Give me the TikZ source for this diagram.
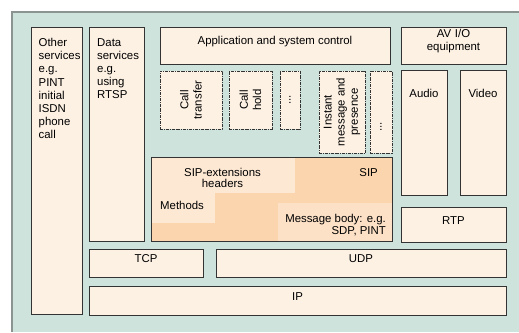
\documentclass[tikz,border=0pt]{standalone}
\usepackage{fontspec}
\setmainfont{Liberation Sans}
\usetikzlibrary{fit}

\definecolor{tealbg}{HTML}{CFE3DD}
\definecolor{frameline}{HTML}{8C9491}
\definecolor{boxline}{HTML}{333333}
\definecolor{cream}{HTML}{FDF1E4}
\definecolor{peach}{HTML}{FBD5AD}
\definecolor{peachlight}{HTML}{FDE8D4}
\definecolor{peachmid}{HTML}{FDE1C6}

\begin{document}
\begin{tikzpicture}[%
    x=1pt, y=-1pt,              % work in points, y going down
    font=\fontsize{11.4}{13.2}\selectfont,
    ]
% -------------------------------------------------
% Box styles
\tikzset{
  base/.style={inner sep=0pt, outer sep=0pt, draw=boxline, line width=1pt},
  box/.style={base, fill=cream},
  dbox/.style={base, fill=cream, line width=0.75pt,
               dash pattern=on 3pt off 1pt on 0.8pt off 1pt},
  txt/.style={inner sep=0pt, align=left},
  vtxt/.style={inner sep=0pt, align=center, rotate=90},
}
% -------------------------------------------------
\useasboundingbox (0,0) rectangle (519,332);
% Backdrop
\fill[tealbg] (12,12) rectangle (519,332);
\draw[frameline, line width=1.2pt] (12,332) -- (12,12) -- (519,12);

% Left-hand columns
\node[box, fit={(31,27) (82,314)}] (other) {};
\node[txt, anchor=north west] at (38.5,38) {Other\\services\\e.g.\\PINT\\initial\\ISDN\\phone\\call};
\node[box, fit={(89,27) (144,241)}] (data) {};
\node[txt, anchor=north west] at (97,38) {Data\\services\\e.g.\\using\\RTSP};

% Top row
\node[box, fit={(160,27) (390,64)}] (app) {Application and system control};
\node[box, fit={(401,27) (506,64)}, align=center] (avio) {AV I/O\\equipment};

% Supplementary services
\node[dbox, fit={(160,71) (222,129)}] (ctrans) {};
\node[vtxt] at (ctrans) {Call\\transfer};
\node[dbox, fit={(229,71) (272,129)}] (chold) {};
\node[vtxt] at (chold) {Call\\hold};
\node[dbox, fit={(280,71) (300,129)}] (more1) {};
\node[vtxt] at (more1) {...};
\node[dbox, fit={(319,71) (365,153)}] (instant) {};
\node[vtxt] at (instant) {Instant\\message and\\presence};
\node[dbox, fit={(370,71) (392,153)}] (more2) {};
\node[vtxt] at (381,127) {...};

% Media
\node[box, fit={(401,70) (447,195)}] (audio) {};
\node[txt, anchor=base] at (424,97) {Audio};
\node[box, fit={(460,70) (506,195)}] (video) {};
\node[txt, anchor=base] at (483,97) {Video};
\node[box, fit={(401,207) (506,242)}] (rtp) {RTP};

% SIP block with its shaded parts
\node[base, fill=peach, fit={(151,157) (392,241)}] (sip) {};
\fill[peachlight] (151,157) rectangle (295,193);
\fill[peachlight] (151,193) rectangle (215,223);
\fill[peachmid] (278,203) rectangle (392,241);
\draw[boxline, line width=1pt] (sip.north west) rectangle (sip.south east);
\node[txt, align=center, anchor=north, font=\fontsize{11.4}{10.8}\selectfont]
  (sipext) at (222.5,168) {SIP-extensions\\headers};
\node[txt, anchor=base west] (methods) at (160,209) {Methods};
\node[txt, anchor=base east] (siplbl) at (378,176) {SIP};
\node[txt, align=right, anchor=north east, font=\fontsize{11.4}{10.2}\selectfont]
  (msgbody) at (386,214.5) {Message body: e.g.\\SDP, PINT};

% Transport and network
\node[box, fit={(89,249) (203,277)}] (tcp) {TCP};
\node[box, fit={(216,249) (506,277)}] (udp) {UDP};
\node[box, fit={(89,286) (506,315)}] (ip) {IP};
% -------------------------------------------------
\end{tikzpicture}
\end{document}
